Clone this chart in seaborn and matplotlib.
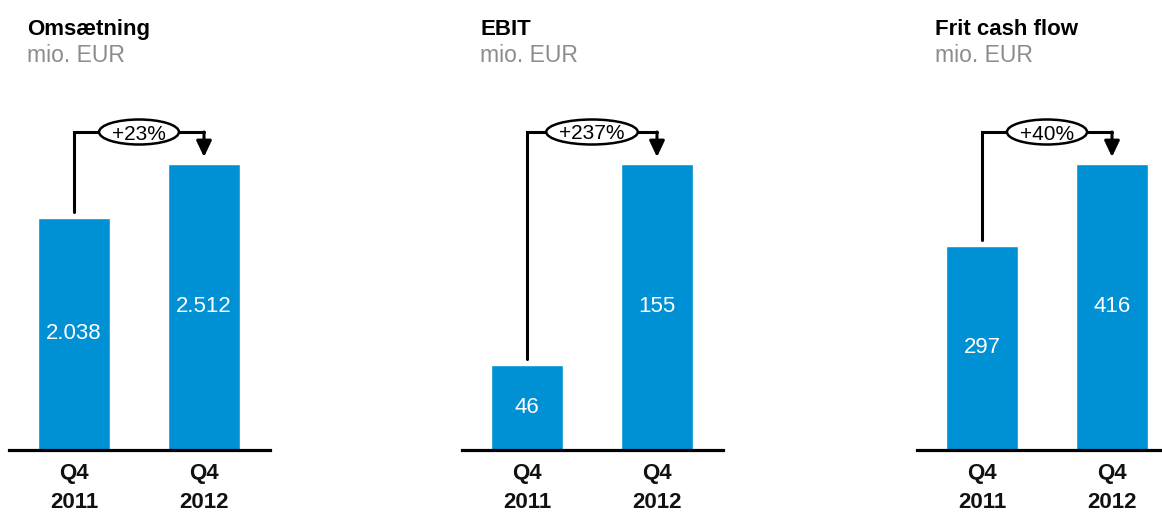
import matplotlib
matplotlib.use("Agg")
import matplotlib.pyplot as plt
import seaborn as sns
import pandas as pd
from matplotlib.patches import Ellipse

# ---- data ----
titles = ["Omsætning", "EBIT", "Frit cash flow"]
subtitle = "mio. EUR"
periods = ["Q4\n2011", "Q4\n2012"]
omsaetning = [2038, 2512]
ebit = [46, 155]
fcf = [297, 416]
value_labels = [["2.038", "2.512"], ["46", "155"], ["297", "416"]]
changes = ["+23%", "+237%", "+40%"]

sns.set_theme(style="white")
plt.rcParams["font.family"] = ["Liberation Sans", "DejaVu Sans"]

W, H = 1162, 516
fig = plt.figure(figsize=(W / 100, H / 100), dpi=100)
renderer = fig.canvas.get_renderer()

BLUE = "#0091D5"
lefts = [9, 462, 917]
axw = 261
base_y = 450
top_y = 105
unit = 130.0     # px between bar centres
bar_px = 286.0   # px height of tallest bar

for i, vals in enumerate([omsaetning, ebit, fcf]):
    L = lefts[i]
    ax = fig.add_axes([L / W, (H - base_y) / H, axw / W, (base_y - top_y) / H])
    df = pd.DataFrame({"period": periods, "value": vals})
    sns.barplot(data=df, x="period", y="value", color=BLUE, saturation=1,
                width=0.554, ax=ax)
    m = max(vals)
    py = m / bar_px  # data units per pixel (y)
    ax.set_xlim(-65 / unit, (axw - 65) / unit)
    ax.set_ylim(0, (base_y - top_y) * py)
    ax.set_xlabel("")
    ax.set_ylabel("")
    ax.set_yticks([])
    for s in ["left", "top", "right"]:
        ax.spines[s].set_visible(False)
    ax.spines["bottom"].set_linewidth(2.3)
    ax.spines["bottom"].set_color("black")
    ax.tick_params(axis="x", length=0, pad=9, labelsize=16, colors="#111111")
    for lbl in ax.get_xticklabels():
        lbl.set_fontweight("bold")
        lbl.set_linespacing(1.5)

    # value labels inside bars
    for j, v in enumerate(vals):
        ax.text(j, v / 2, value_labels[i][j], color="white", ha="center",
                va="center", fontsize=16)

    # bracket arrow
    yb = 318 * py
    ax.plot([0, 0, 1], [vals[0] + 6 * py, yb, yb], color="black", lw=2.2,
            solid_joinstyle="miter", clip_on=False, zorder=3)
    ax.annotate("", xy=(1, vals[1] + 7 * py), xytext=(1, yb),
                arrowprops=dict(arrowstyle="-|>,head_length=0.8,head_width=0.38",
                                lw=2.2, color="black", shrinkA=0, shrinkB=0,
                                mutation_scale=12),
                annotation_clip=False, zorder=3)
    t = ax.text(0.5, yb, changes[i], ha="center", va="center_baseline",
                fontsize=15, color="black", zorder=5)
    bb = t.get_window_extent(renderer)
    ell = Ellipse((0.5, yb), (bb.width + 26) / unit, 25 * py,
                  facecolor="white", edgecolor="black", lw=1.8, zorder=4,
                  clip_on=False)
    ax.add_patch(ell)

    # titles
    fig.text((L + 18) / W, 1 - 35 / H, titles[i], fontsize=16,
             fontweight="bold", color="black", va="baseline", ha="left")
    fig.text((L + 18) / W, 1 - 62 / H, subtitle, fontsize=16.5,
             color="#8C8C8C", va="baseline", ha="left")

fig.savefig("out.png", dpi=100)
